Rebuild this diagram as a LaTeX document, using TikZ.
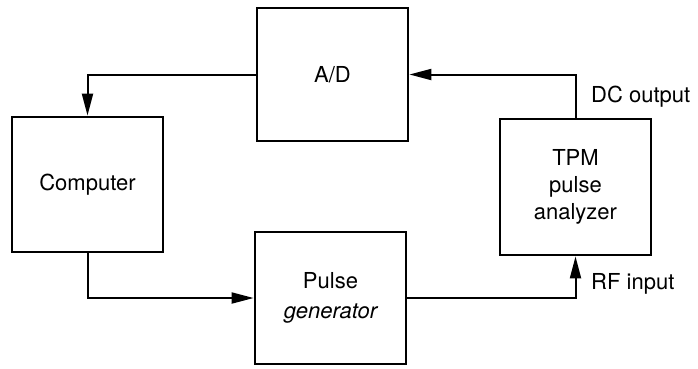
\documentclass[tikz,border=0pt]{standalone}
\usepackage{fontspec}
\setmainfont{TeX Gyre Heros}
\usetikzlibrary{arrows.meta}
\begin{document}
\begin{tikzpicture}[x=1pt,y=-1pt,
  blockbox/.style={draw, line width=2.8pt, minimum width=151pt, align=center,
    font=\fontsize{22}{27}\selectfont, inner sep=0pt},
  conn/.style={draw, line width=2pt, -{Triangle[length=22pt,width=11pt]}},
  lbl/.style={anchor=west, font=\fontsize{22}{27}\selectfont, inner sep=0pt}]
\useasboundingbox (0,0) rectangle (698,368);
\node[blockbox, minimum height=133pt] (ad) at (332.5,74.5) {A/D};
\node[blockbox, minimum height=135pt] (comp) at (87.5,184.5) {Computer};
\node[blockbox, minimum height=132pt, font=\fontsize{22}{30}\selectfont] (pg) at (330.5,298) {Pulse\\\itshape generator};
\node[blockbox, minimum height=136pt, font=\fontsize{22}{27}\selectfont] (tpm) at (575.5,187) {TPM\\pulse\\analyzer};
\draw[conn] (ad.west) -| (comp.north);
\draw[conn] (comp.south) |- (pg.west);
\draw[conn] (pg.east) -| (tpm.south);
\draw[conn] (tpm.north) |- (ad.east);
\node[lbl] (dc) at (591,97) {DC output};
\node[lbl] (rf) at (591,284) {RF input};
\end{tikzpicture}
\end{document}
